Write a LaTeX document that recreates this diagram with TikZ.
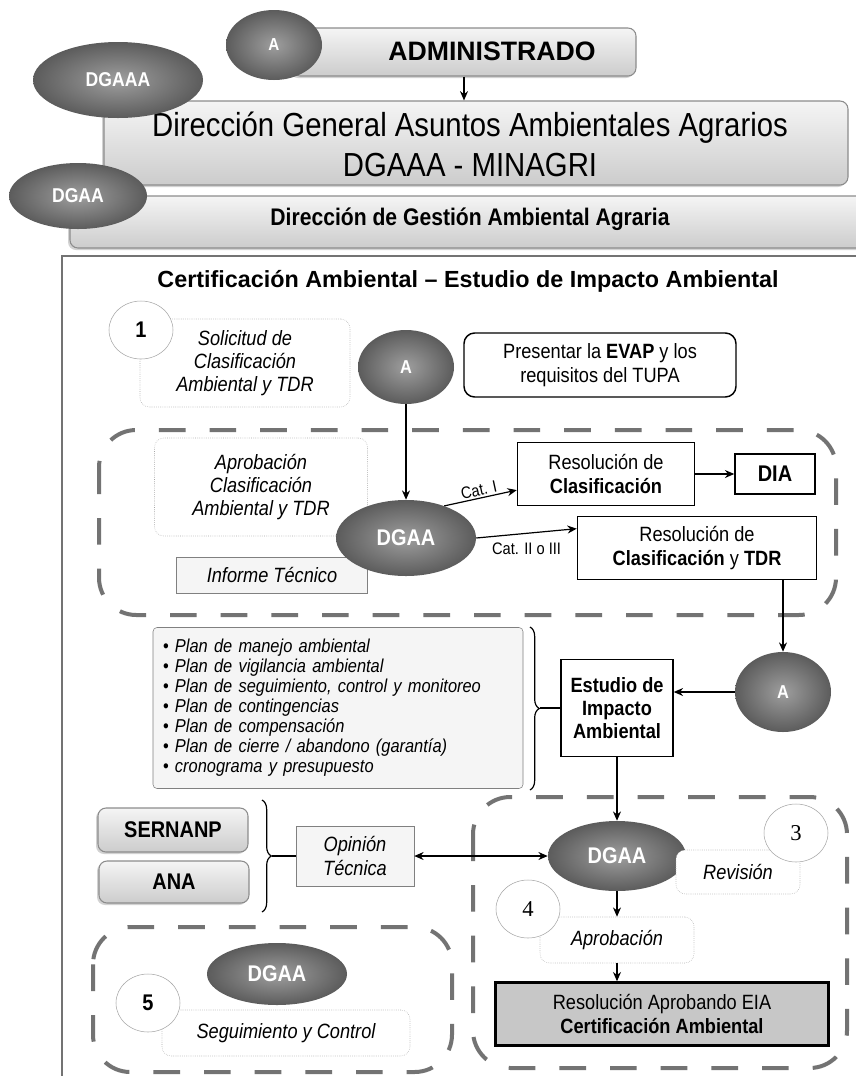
\documentclass[tikz,border=0pt]{standalone}
\usepackage{fontspec}
\setmainfont{Liberation Sans}
\newfontfamily\nar{Liberation Sans}[FakeStretch=0.88]
\newfontfamily\ser{Liberation Serif}
\usetikzlibrary{shapes.geometric,arrows.meta,calc,decorations.pathreplacing,shadows}
\newcommand\fsA{\fontsize{15.5}{17.5}\selectfont}
\newcommand\fsB{\fontsize{17}{19}\selectfont}
\newcommand\fsC{\fontsize{14}{15}\selectfont}
\newcommand\fsD{\fontsize{12.5}{14}\selectfont}
\tikzset{
  every node/.style={font=\nar},
  bw/.style={minimum width=#1*0.75pt},
  bh/.style={minimum height=#1*0.75pt},
  oval/.style={ellipse, inner color=black!38, outer color=black!64, text=white, font=\nar\bfseries\fsB, inner sep=0pt},
  hdr/.style={rounded corners=6pt, draw=black!45, top color=black!4, bottom color=black!20, line width=0.8pt, align=center, inner sep=0pt,
     drop shadow={opacity=0.35, shadow xshift=-1.5pt, shadow yshift=-1.5pt}},
  soft/.style={rounded corners=7pt, draw=black!35, densely dotted, fill=white, align=center, font=\nar\itshape\fsA, inner sep=0pt},
  blk/.style={draw=black, line width=1.1pt, fill=white, align=center, inner sep=0pt, font=\nar\fsA},
  grybox/.style={draw=black!50, fill=black!4, align=center, inner sep=0pt},
  num/.style={ellipse, draw=black!35, fill=white, font=\nar\bfseries\fsB, minimum width=64*0.75pt, minimum height=58*0.75pt, inner sep=0pt},
  zone/.style={draw=black!55, line width=3pt, dash pattern=on 20pt off 18pt, rounded corners=28pt},
  arr/.style={-{Stealth[length=7pt,width=6pt]}, line width=0.9pt},
  darr/.style={{Stealth[length=7pt,width=6pt]}-{Stealth[length=7pt,width=6pt]}, line width=0.9pt},
  brc/.style={decorate, decoration={brace, amplitude=7pt}, line width=0.9pt},
}
\begin{document}
\begin{tikzpicture}[x=0.75pt,y=-0.75pt]
\path[fill=white,use as bounding box] (0,0) rectangle (856,1076);

% ---------- header ----------
\node[hdr, bw=344, bh=48] (adm) at (464,52) {};
\node[font=\bfseries\fontsize{20}{22}\selectfont] (admtxt) at (492,51) {ADMINISTRADO};
\node[oval, bw=96, bh=70, font=\nar\bfseries\fontsize{13}{15}\selectfont] (a0) at (274,45) {A};

\node[hdr, bw=744, bh=84] (dgaaabox) at (476,143) {};
\node[align=center, font=\nar\fontsize{25}{30}\selectfont] (dgaaatxt) at (470,144) {Dirección General Asuntos Ambientales Agrarios\\DGAAA - MINAGRI};
\draw[arr] (adm.south) -- (adm.south |- dgaaabox.north);
\node[oval, bw=170, bh=76, font=\nar\bfseries\fontsize{15}{17}\selectfont] (dgaaa) at (118,80) {DGAAA};

\node[hdr, bw=810, bh=52] (dgaabox) at (475,222) {};
\node[font=\nar\bfseries\fontsize{18}{20}\selectfont] (dgaatxt) at (470,219) {Dirección de Gestión Ambiental Agraria};
\node[oval, bw=138, bh=66, font=\nar\bfseries\fontsize{15}{17}\selectfont] (dgaa0) at (78,196) {DGAA};

% frame
\draw[black!55, line width=0.8pt] (62,1100) |- (880,256);

\node[font=\bfseries\fontsize{17.5}{20}\selectfont] (title) at (468,281) {Certificación Ambiental – Estudio de Impacto Ambiental};

% ---------- step 1 ----------
\node[soft, bw=210, bh=88] (sol) at (245,363) {Solicitud de\\Clasificación\\Ambiental y TDR};
\node[num] (n1) at (141,330) {1};
\node[oval, bw=96, bh=74, font=\nar\bfseries\fontsize{14}{16}\selectfont] (a1) at (406,367) {A};
\node[blk, rounded corners=8pt, bw=272, bh=64] (pres) at (600,365) {Presentar la \textbf{EVAP} y los\\requisitos del TUPA};

% ---------- step 2 ----------
\draw[zone] (99,430) rectangle (836,615);
\node[soft, bw=213, bh=98] (aprob1) at (261,487) {Aprobación\\Clasificación\\Ambiental y TDR};
\node[grybox, font=\nar\itshape\fsA, bw=191, bh=36] (inf) at (272,575) {Informe Técnico};
\node[oval, bw=140, bh=76] (dgaa1) at (406,538) {DGAA};
\node[blk, bw=177, bh=63] (rc) at (606,474) {Resolución de\\\textbf{Clasificación}};
\node[blk, bw=80, bh=40, font=\nar\bfseries\fsB] (dia) at (775,474) {DIA};
\node[blk, bw=239, bh=63] (rct) at (697,548) {Resolución de\\\textbf{Clasificación} y \textbf{TDR}};

\draw[arr] (a1) -- (dgaa1);
\draw[arr] (rc) -- (dia);
\draw[arr] (dgaa1.40) -- ($(rc.south west)!0.25!(rc.north west)$) node[midway, above, sloped, font=\nar\fsD, inner sep=1pt] {Cat. I};
\draw[arr] (dgaa1.east) -- ($(rct.south west)!0.8!(rct.north west)$) node[pos=0.5, below=3pt, font=\nar\fsD] {Cat. II o III};

% ---------- EIA ----------
\node[oval, bw=96, bh=80, font=\nar\bfseries\fontsize{14}{16}\selectfont] (a2) at (783,692) {A};
\draw[arr] (rct.south -| a2.north) -- (a2.north);
\node[grybox, rounded corners=3pt, bw=370, bh=161, text width=350*0.75pt, align=left, font=\nar\itshape\fsC] (plan) at (338,708) {%
{\upshape\textbullet}\ Plan de manejo ambiental\\
{\upshape\textbullet}\ Plan de vigilancia ambiental\\
{\upshape\textbullet}\ Plan de seguimiento, control y monitoreo\\
{\upshape\textbullet}\ Plan de contingencias\\
{\upshape\textbullet}\ Plan de compensación\\
{\upshape\textbullet}\ Plan de cierre / abandono (garantía)\\
{\upshape\textbullet}\ cronograma y presupuesto};
\draw[brc] (530,627) -- (530,790);
\coordinate (b1) at (540,708);
\node[blk, font=\nar\bfseries\fsA, bw=112, bh=97] (eia) at (617,708) {Estudio de\\Impacto\\Ambiental};
\draw[line width=0.9pt] (b1) -- (eia.west);
\draw[arr] (a2.west) -- (a2.west -| eia.east);

% ---------- step 3 / 4 ----------
\draw[zone] (473,797) rectangle (847,1068);
\node[oval, bw=138, bh=70] (dgaa3) at (617,856) {DGAA};
\draw[arr] (eia.south) -- (dgaa3.north);
\node[soft, bw=124, bh=44] (rev) at (738,872) {Revisión};
\node[num, font=\ser\fsB] (n3) at (796,833) {3};
\node[soft, bw=154, bh=46] (aprob2) at (617,940) {Aprobación};
\node[num, font=\ser\fsB] (n4) at (528,909) {4};
\draw[arr] (dgaa3.south) -- (aprob2.north);
\node[draw=black, line width=1.8pt, fill=black!22, bw=333, bh=63, align=center, inner sep=0pt, font=\nar\fsA] (resap) at (662,1014) {Resolución Aprobando EIA\\\textbf{Certificación Ambiental}};
\draw[arr] (aprob2.south) -- (aprob2.south |- resap.north);

% ---------- opinion ----------
\node[hdr, bw=150, bh=44, font=\nar\bfseries\fsB] (sern) at (173,830) {SERNANP};
\node[hdr, bw=150, bh=42, font=\nar\bfseries\fsB] (ana) at (174,882) {ANA};
\draw[brc] (262,800) -- (262,912);
\coordinate (b2) at (272,856);
\node[grybox, font=\nar\itshape\fsA, bw=118, bh=60] (opi) at (355,856) {Opinión\\Técnica};
\draw[line width=0.9pt] (b2) -- (opi.west);
\draw[darr] (opi.east) -- (dgaa3.west);

% ---------- step 5 ----------
\draw[zone] (93,927) rectangle (452,1072);
\node[oval, bw=140, bh=62] (dgaa5) at (277,974) {DGAA};
\node[soft, bw=248, bh=46] (seg) at (286,1033) {Seguimiento y Control};
\node[num] (n5) at (148,1003) {5};
\end{tikzpicture}
\end{document}
